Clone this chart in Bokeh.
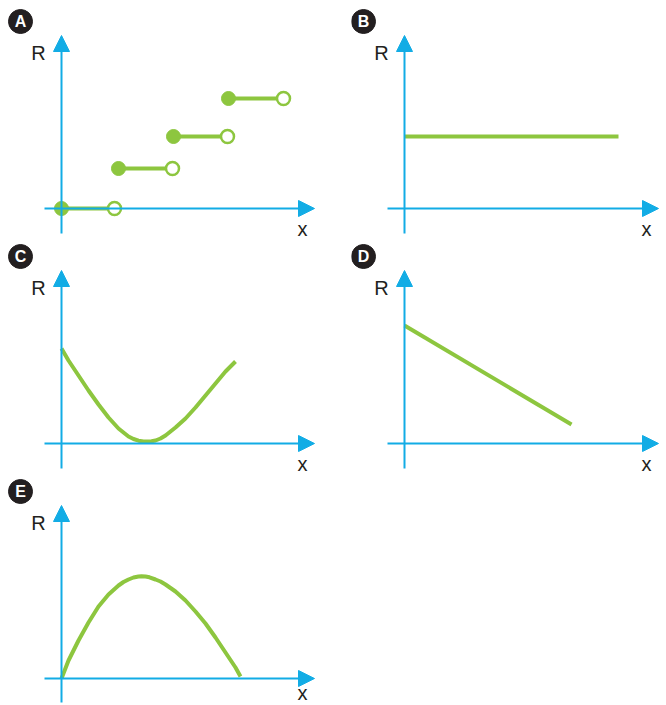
from bokeh.plotting import figure
from bokeh.models import Range1d, Arrow, NormalHead
from bokeh.layouts import column, row
from bokeh.core.properties import value
from bokeh.embed import file_html
from bokeh.resources import INLINE

# ---------------- data (arbitrary units) ----------------
# A: step function R(x)
a_start = [0, 57, 112, 167]
a_end = [53, 111, 166, 222]
a_level = [0, 40, 72, 110]

# B: constant
b_x = [0, 214]
b_r = [72, 72]

# C: valley-shaped curve
c_x = [0, 7, 17, 27, 37, 47, 57, 67, 72, 77, 82, 86, 90, 94, 99, 104, 114, 124, 134, 144, 154, 164, 174]
c_r = [95, 83, 68, 53, 39, 26, 15, 7, 4.5, 2.8, 2, 2, 2.3, 3, 5, 8, 16, 25, 36, 48, 60, 72, 82]

# D: decreasing line
d_x = [0, 167]
d_r = [118, 19]

# E: arch
e_x = [0, 7, 17, 27, 37, 47, 57, 62, 67, 72, 77, 80, 84, 88, 94, 99, 104, 114, 124, 134, 144, 154, 164, 174, 179]
e_r = [0, 18, 38, 56, 72, 84, 93, 96.5, 99, 101, 102, 102.3, 102, 101.2, 99, 97, 94, 87, 78, 67, 55, 41, 26, 11, 2]

letters = ["A", "B", "C", "D", "E"]
axis_labels = ["R", "x"]

BLUE = "#12ACE5"
GREEN = "#8DC63F"
DARK = "#231F20"
FONT = value("Liberation Sans")


def panel(width, height, xr, yr, letter, x_tip, y_low):
    p = figure(width=width, height=height, x_range=Range1d(*xr), y_range=Range1d(*yr),
               output_backend="svg", toolbar_location=None, min_border=0,
               x_axis_location=None, y_axis_location=None)
    p.grid.visible = False
    p.outline_line_color = None
    p.background_fill_color = "white"
    p.border_fill_color = "white"
    # axes as arrows
    p.add_layout(Arrow(end=NormalHead(size=16, fill_color=BLUE, line_color=BLUE, line_width=1),
                       x_start=-17, y_start=0, x_end=x_tip, y_end=0,
                       line_color=BLUE, line_width=2))
    p.add_layout(Arrow(end=NormalHead(size=16, fill_color=BLUE, line_color=BLUE, line_width=1),
                       x_start=0, y_start=y_low, x_end=0, y_end=173,
                       line_color=BLUE, line_width=2))
    # badge
    p.scatter(x=[-41], y=[187], size=24, fill_color=DARK, line_color=DARK)
    p.text(x=[-41], y=[187], text=[letter], text_color="white", text_font=FONT,
           text_font_style="bold", text_font_size="16px", text_align="center",
           text_baseline="middle")
    # axis label R
    p.text(x=[-23], y=[156], text=[axis_labels[0]], text_color=DARK, text_font=FONT,
           text_font_size="20px", text_align="center", text_baseline="middle")
    return p


def xlabel(p, x, y):
    p.text(x=[x], y=[y], text=[axis_labels[1]], text_color=DARK, text_font=FONT,
           text_font_size="20px", text_align="center", text_baseline="middle")


W_L, W_R = 351, 314
XR_L = (-61, 290)
XR_R = (-53, 261)
H1, YR1 = 243, (-35, 208)
H2, YR2 = 235, (-35, 200)
H3, YR3 = 226, (-26, 200)

# Panel A
pa = panel(W_L, H1, XR_L, YR1, letters[0], 253, -25)
xlabel(pa, 241, -20)
pa.segment(x0=a_start, y0=a_level, x1=a_end, y1=a_level, line_color=GREEN, line_width=4)
pa.scatter(x=a_start, y=a_level, size=14, fill_color=GREEN, line_color=GREEN)
pa.scatter(x=a_end, y=a_level, size=13, fill_color="white", line_color=GREEN, line_width=2.5)

# Panel B
pb = panel(W_R, H1, XR_R, YR1, letters[1], 254, -25)
xlabel(pb, 242, -20)
pb.line(b_x, b_r, line_color=GREEN, line_width=4)

# Panel C
pc = panel(W_L, H2, XR_L, YR2, letters[2], 253, -25)
xlabel(pc, 241, -20)
pc.line(c_x, c_r, line_color=GREEN, line_width=4, line_join="round")

# Panel D
pd = panel(W_R, H2, XR_R, YR2, letters[3], 254, -25)
xlabel(pd, 242, -20)
pd.line(d_x, d_r, line_color=GREEN, line_width=4)

# Panel E
pe = panel(W_L, H3, XR_L, YR3, letters[4], 253, -24)
xlabel(pe, 241, -14)
pe.line(e_x, e_r, line_color=GREEN, line_width=4, line_join="round")

layout = column(row(pa, pb), row(pc, pd), row(pe), spacing=0)

open("out.html", "w").write(file_html(layout, INLINE))
